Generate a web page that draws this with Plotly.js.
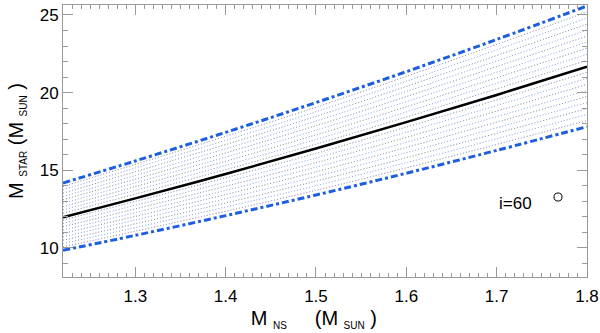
<!DOCTYPE html>
<html>
<head>
<meta charset="utf-8">
<script src="https://cdn.plot.ly/plotly-3.0.1.min.js"></script>
<style>html,body{margin:0;padding:0;background:#fff;}#chart{width:600px;height:333px;}</style>
</head>
<body>
<div id="chart"></div>
<script>
// Neutron-star mass (M_sun) sample points
const massNS = [1.22, 1.3, 1.4, 1.5, 1.6, 1.7, 1.8];
// Companion mass curves (M_sun)
const upperStar   = [14.18, 15.60, 17.44, 19.36, 21.35, 23.42, 25.58];
const centralStar = [11.97, 13.19, 14.76, 16.40, 18.10, 19.85, 21.67];
const lowerStar   = [9.85, 10.81, 12.08, 13.41, 14.81, 16.28, 17.81];

// Dotted family of curves, read at three masses
const dottedNS = [1.22, 1.5, 1.8];
const dottedAtLeft  = [10.07,10.28,10.50,10.72,10.93,11.15,11.37,11.58,11.80,12.02,12.23,12.45,12.66,12.88,13.10,13.31,13.53,13.75,13.96];
const dottedAtMid   = [13.71,14.01,14.30,14.60,14.90,15.20,15.49,15.79,16.09,16.39,16.68,16.98,17.28,17.58,17.87,18.17,18.47,18.77,19.06];
const dottedAtRight = [18.20,18.59,18.98,19.36,19.75,20.14,20.53,20.92,21.31,21.70,22.08,22.47,22.86,23.25,23.64,24.03,24.41,24.80,25.19];

const legendLabel = "i=60";

const traces = [];
for (let k = 0; k < dottedAtLeft.length; k++) {
  traces.push({
    x: dottedNS,
    y: [dottedAtLeft[k], dottedAtMid[k], dottedAtRight[k]],
    type: 'scatter', mode: 'lines', hoverinfo: 'skip', showlegend: false,
    line: {color: (k % 2 === 0) ? 'rgba(70,80,130,0.85)' : 'rgba(70,120,225,0.85)', width: 0.9, dash: '1px,2px', shape: 'spline'}
  });
}
const dashBlue = {color: '#1c5ede', width: 3, dash: '7px,3px,3px,3px', shape: 'spline'};
traces.push({x: massNS, y: upperStar, type: 'scatter', mode: 'lines', showlegend: false, line: dashBlue});
traces.push({x: massNS, y: lowerStar, type: 'scatter', mode: 'lines', showlegend: false, line: dashBlue});
traces.push({x: massNS, y: centralStar, type: 'scatter', mode: 'lines', showlegend: false,
  line: {color: '#000', width: 2.5, shape: 'spline'}});

const axisCommon = {
  showgrid: false, zeroline: false, showline: true, linecolor: '#9a9a9a', linewidth: 1,
  mirror: 'ticks', ticks: 'inside', ticklen: 10, tickcolor: '#9a9a9a', tickwidth: 1,
  tickfont: {family: 'Liberation Sans, Arial, sans-serif', size: 17, color: '#000'}
};

const layout = {
  width: 600, height: 333,
  margin: {l: 63, r: 13, t: 5, b: 56},
  paper_bgcolor: '#fff', plot_bgcolor: '#fff',
  font: {family: 'Liberation Sans, Arial, sans-serif', color: '#000'},
  xaxis: Object.assign({}, axisCommon, {
    range: [1.22, 1.8], dtick: 0.1, tick0: 1.3, ticklabelstandoff: 4,
    minor: {dtick: 0.01, ticks: 'inside', ticklen: 4, tickcolor: '#9a9a9a', tickwidth: 1, showgrid: false},
    title: {text: 'M <sub><span style="font-size:10px">NS</span></sub>&nbsp;&nbsp;&nbsp;&nbsp; (M <sub><span style="font-size:10px">SUN</span></sub> )&nbsp;&nbsp;&nbsp;&nbsp;',
            font: {size: 20}, standoff: 5}
  }),
  yaxis: Object.assign({}, axisCommon, {
    range: [8.13, 25.64], dtick: 5, tick0: 10,
    minor: {dtick: 1, ticks: 'inside', ticklen: 5, tickcolor: '#9a9a9a', tickwidth: 1, showgrid: false},
    title: {text: 'M <sub><span style="font-size:10px">STAR</span></sub> (M <sub><span style="font-size:10px">SUN</span></sub> )',
            font: {size: 20}, standoff: 10}
  }),
  annotations: [{
    text: legendLabel, xref: 'paper', yref: 'paper', x: 0.8645, y: 0.270,
    xanchor: 'center', yanchor: 'middle', showarrow: false,
    font: {size: 17, color: '#000'}
  }],
  shapes: [{
    type: 'circle', xref: 'paper', yref: 'paper',
    x0: 0.937, x1: 0.9523, y0: 0.2794, y1: 0.3088,
    line: {color: '#000', width: 1}
  }]
};

Plotly.newPlot('chart', traces, layout, {staticPlot: true, displayModeBar: false});
</script>
</body>
</html>
